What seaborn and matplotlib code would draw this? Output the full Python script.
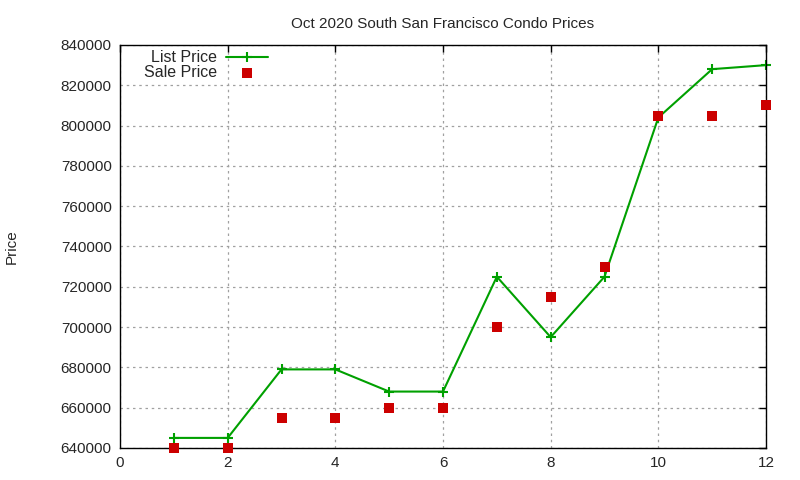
import matplotlib
matplotlib.use("Agg")
import matplotlib.pyplot as plt
import seaborn as sns
import pandas as pd

# valores
months = [1, 2, 3, 4, 5, 6, 7, 8, 9, 10, 11, 12]
list_price = [645000, 645000, 679000, 679000, 668000, 668000,
              725000, 695000, 725000, 804000, 828000, 830000]
sale_price = [640000, 640000, 655000, 655000, 660000, 660000,
              700000, 715000, 730000, 805000, 805000, 810000]

df = pd.DataFrame({"x": months, "List Price": list_price, "Sale Price": sale_price})

sns.set_style("white")
plt.rcParams['font.family'] = ['Liberation Sans', 'DejaVu Sans']

fig = plt.figure(figsize=(8, 4.8), dpi=100)
ax = fig.add_axes([0.15, 0.0667, 0.8075, 0.8396])

green = "#00a000"
sns.lineplot(data=df, x="x", y="List Price", ax=ax, color=green, linewidth=1.5,
             marker="+", markersize=7, markeredgewidth=1.5, markeredgecolor=green,
             markerfacecolor=green, label="List Price", clip_on=False)
sns.scatterplot(data=df, x="x", y="Sale Price", ax=ax, color="#cc0000", marker="s",
                s=45, linewidth=0, label="Sale Price", clip_on=False, zorder=3)

ax.set_xlim(0, 12)
ax.set_ylim(640000, 840000)
ax.set_xticks(range(0, 13, 2))
ax.set_yticks(range(640000, 840001, 20000))
ax.grid(True, color="#a0a0a0", linestyle=(0, (2, 3)), linewidth=0.9)
ax.tick_params(direction="in", length=5, top=True, right=True, labelsize=11, width=1,
               color="black", pad=6)
for s in ax.spines.values():
    s.set_color("black")
    s.set_linewidth(1)

ax.set_title("Oct 2020 South San Francisco Condo Prices", fontsize=11, pad=12)
ax.set_xlabel("")
ax.set_ylabel("Price", fontsize=11, labelpad=30)

leg = ax.legend(loc="upper left", bbox_to_anchor=(0.02, 1.015), frameon=False, markerfirst=False,
                fontsize=11.5, handlelength=2.6, handletextpad=0.55, labelspacing=0.0,
                borderaxespad=0.3)

fig.savefig("out.png", dpi=100)
